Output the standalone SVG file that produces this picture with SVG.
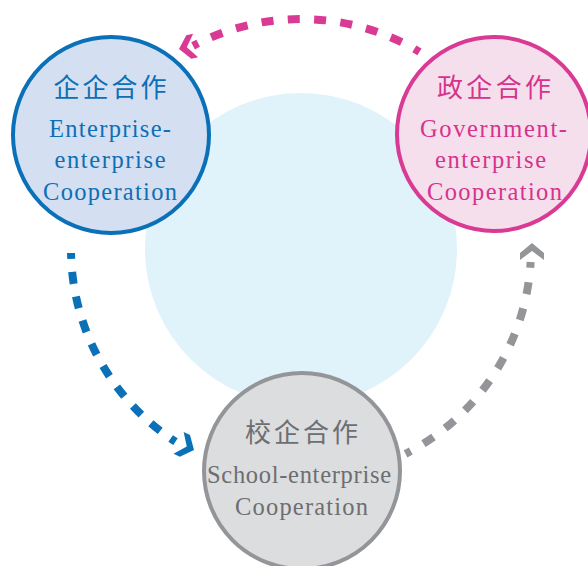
<svg xmlns="http://www.w3.org/2000/svg" xmlns:xlink="http://www.w3.org/1999/xlink" width="588" height="566" viewBox="0 0 588 566">
<style>
.lat{font-family:"Liberation Serif","Times New Roman",serif;font-size:24.5px;text-anchor:middle}
.cjk{font-family:"Noto Sans CJK SC","Noto Sans CJK JP",sans-serif;font-size:26px;text-anchor:middle}
.dash{fill:none;stroke-width:8;stroke-dashoffset:6}
.node{stroke-width:4}
.blue{fill:#0d6fb5}
.pink{fill:#d6338d}
.gray{fill:#6d6e71}
</style>
<defs>
<path id="chev" d="M0,0 L-10,12 L-17,12 L-8,0 L-17,-12 L-10,-12 Z"/>
</defs>
<circle id="hub" cx="301" cy="249" r="156" fill="#e0f2fa"/>
<g id="connectors">
<path class="dash" stroke="#d93a93" stroke-dasharray="12 14.31" d="M419.45,51.85 A230,230 0 0 0 193.1,45.9"/>
<use xlink:href="#chev" fill="#d93a93" transform="translate(179,49) rotate(168)"/>
<path class="dash" stroke="#0a70b8" stroke-dasharray="12 12.94" d="M71.03,253.01 A230,230 0 0 0 175.5,441.7"/>
<use xlink:href="#chev" fill="#0a70b8" transform="translate(194,450) rotate(25)"/>
<path class="dash" stroke="#939598" stroke-dasharray="12 14.64" d="M405.56,453.86 A230,230 0 0 0 530.63,261.96"/>
<use xlink:href="#chev" fill="#939598" transform="translate(532,243) rotate(-90)"/>
</g>
<g id="enterprise-enterprise">
<circle class="node" cx="111" cy="135" r="98" fill="#d4dff2" stroke="#0a70b8"/>
<text class="cjk blue" x="110" y="97" textLength="113" lengthAdjust="spacing">企企合作</text>
<text class="lat blue" x="110" y="137" textLength="122" lengthAdjust="spacing">Enterprise-</text>
<text class="lat blue" x="110" y="168" textLength="111" lengthAdjust="spacing">enterprise</text>
<text class="lat blue" x="110" y="199.5" textLength="134" lengthAdjust="spacing">Cooperation</text>
</g>
<g id="government-enterprise">
<circle class="node" cx="494" cy="134" r="97" fill="#f6dfec" stroke="#d93a93"/>
<text class="cjk pink" x="494" y="97" textLength="114" lengthAdjust="spacing">政企合作</text>
<text class="lat pink" x="493.5" y="137" textLength="147" lengthAdjust="spacing">Government-</text>
<text class="lat pink" x="490.5" y="168" textLength="111" lengthAdjust="spacing">enterprise</text>
<text class="lat pink" x="494.5" y="199.5" textLength="135" lengthAdjust="spacing">Cooperation</text>
</g>
<g id="school-enterprise">
<circle class="node" cx="302" cy="471" r="98" fill="#dcdddf" stroke="#939598"/>
<text class="cjk gray" x="301.5" y="442" textLength="113" lengthAdjust="spacing">校企合作</text>
<text class="lat gray" x="299" y="483" textLength="184" lengthAdjust="spacing">School-enterprise</text>
<text class="lat gray" x="301.5" y="515" textLength="133" lengthAdjust="spacing">Cooperation</text>
</g>
</svg>
